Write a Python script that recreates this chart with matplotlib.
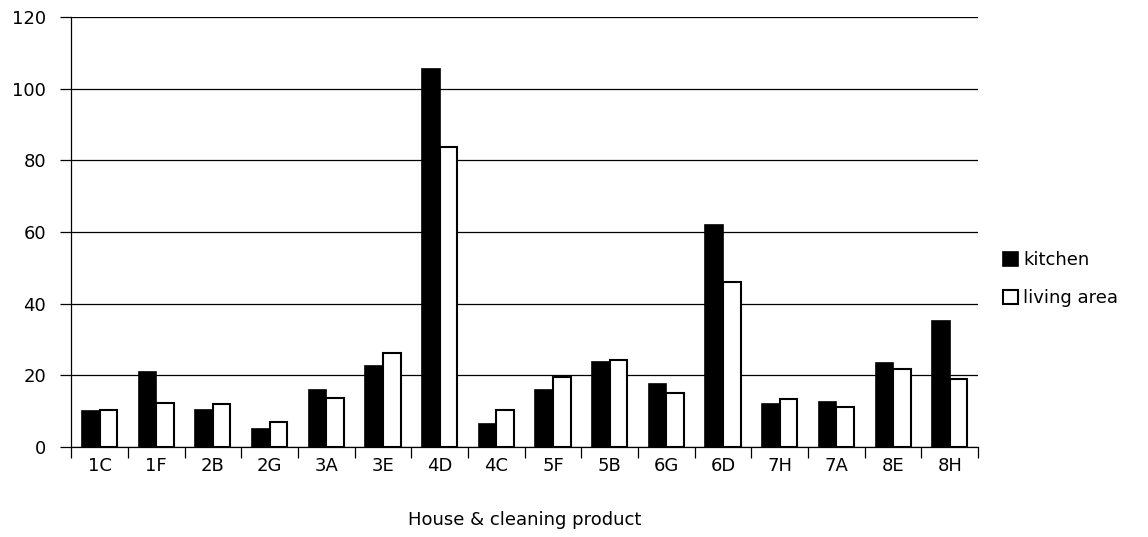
import numpy as np
import matplotlib
matplotlib.use("Agg")
import matplotlib.pyplot as plt

products = ['1C', '1F', '2B', '2G', '3A', '3E', '4D', '4C',
            '5F', '5B', '6G', '6D', '7H', '7A', '8E', '8H']
kitchen = [9.9, 20.8, 10.4, 4.9, 15.8, 22.6, 105.5, 6.5,
           15.8, 23.7, 17.5, 61.9, 11.9, 12.5, 23.3, 35.0]
living = [10.3, 12.3, 11.9, 7.0, 13.6, 26.1, 83.7, 10.3,
          19.5, 24.3, 15.0, 46.0, 13.4, 11.2, 21.8, 18.8]

plt.rcParams['font.family'] = ['DejaVu Sans']
plt.rcParams['font.size'] = 13

fig = plt.figure(figsize=(11.48, 5.37), dpi=100)
ax = fig.add_axes([0.062, 0.168, 0.79, 0.8])

x = np.arange(len(products))
w = 0.31
ax.bar(x - w / 2, kitchen, w, color='black', edgecolor='black', linewidth=1.2,
       label='kitchen', zorder=3)
ax.bar(x + w / 2, living, w, color='white', edgecolor='black', linewidth=1.5,
       label='living area', zorder=3)

ax.set_xlim(-0.5, len(products) - 0.5)
ax.set_ylim(0, 120)
ax.set_yticks(range(0, 121, 20))
ax.yaxis.grid(True, color='black', linewidth=0.9, zorder=0)
ax.set_axisbelow(True)

ax.set_xticks(x)
ax.set_xticklabels(products)
ax.set_xticks(np.arange(-0.5, len(products)), minor=True)
ax.tick_params(axis='x', which='major', length=0, pad=7)
ax.tick_params(axis='x', which='minor', length=8, width=0.9, direction='out')
ax.tick_params(axis='y', length=8, width=0.9, direction='out', pad=10)

for s in ['top', 'right']:
    ax.spines[s].set_visible(False)
ax.spines['left'].set_linewidth(0.9)
ax.spines['bottom'].set_linewidth(0.9)

ax.set_xlabel('House & cleaning product', labelpad=26)

ax.legend(loc='center left', bbox_to_anchor=(1.0, 0.39), frameon=False,
          handlelength=0.8, handleheight=0.8, handletextpad=0.3,
          labelspacing=1.1, borderaxespad=1.0)

fig.savefig('out.png', dpi=100)
